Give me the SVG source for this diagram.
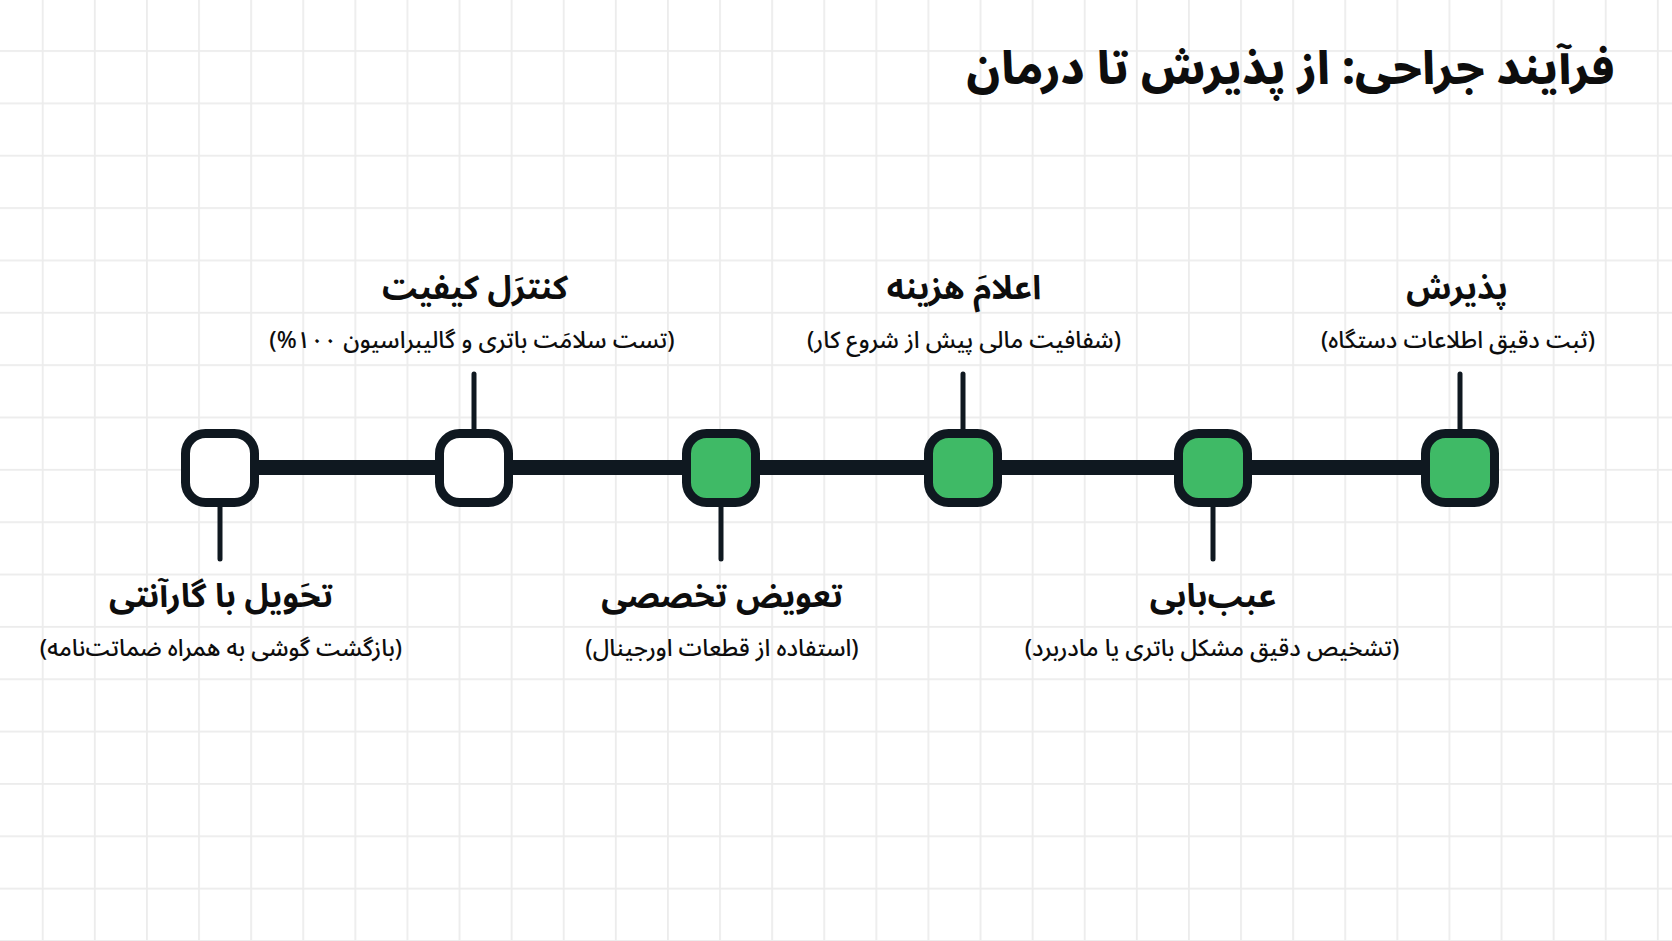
<svg xmlns="http://www.w3.org/2000/svg" width="1672" height="941" viewBox="0 0 1672 941">
  <defs>
    <pattern id="gridV" x="41.8" y="0" width="52.1" height="941" patternUnits="userSpaceOnUse">
      <rect x="0" y="0" width="1.8" height="941" fill="#ececec"/>
    </pattern>
    <pattern id="gridH" x="0" y="50.1" width="1672" height="52.35" patternUnits="userSpaceOnUse">
      <rect x="0" y="0" width="1672" height="1.8" fill="#ececec"/>
    </pattern>
  </defs>
  <style>
    text { font-family: "Noto Sans Arabic", "Vazirmatn", "DejaVu Sans", sans-serif; direction: rtl; fill: #0d0d0d; }
    .title { font-size: 45.5px; font-weight: 800; text-anchor: start; }
    .lbl { font-size: 33px; font-weight: 700; text-anchor: middle; }
    .sub { font-size: 23.5px; font-weight: 500; text-anchor: middle; }
    .node { stroke: #0f1820; stroke-width: 9; }
    .done { fill: #3fba66; }
    .todo { fill: #ffffff; }
    .stem { stroke: #0f1820; stroke-width: 5; stroke-linecap: round; fill: none; }
    .track { stroke: #0f1820; stroke-width: 15; fill: none; }
  </style>
  <rect width="1672" height="941" fill="#ffffff"/>
  <rect width="1672" height="941" fill="url(#gridV)"/>
  <rect width="1672" height="941" fill="url(#gridH)"/>

  <text id="title" class="title" x="1615" y="84">فرآیند جراحی: از پذیرش تا درمان</text>

  <g id="connectors">
    <line class="track" x1="220" y1="467.5" x2="1460" y2="467.5"/>
    <line class="stem" x1="474" y1="374" x2="474" y2="432"/>
    <line class="stem" x1="963" y1="374" x2="963" y2="432"/>
    <line class="stem" x1="1460" y1="374" x2="1460" y2="432"/>
    <line class="stem" x1="220" y1="504" x2="220" y2="559"/>
    <line class="stem" x1="721" y1="504" x2="721" y2="559"/>
    <line class="stem" x1="1213" y1="504" x2="1213" y2="559"/>
  </g>

  <g id="node-delivery">
    <rect class="node todo" x="185.5" y="433.5" width="69" height="69" rx="20"/>
    <text class="lbl" x="221" y="607">تحَویل با گارآنتی</text>
    <text class="sub" x="221" y="656">(بازگشت گوشی به همراه ضماتت‌نامه)</text>
  </g>

  <g id="node-qc">
    <rect class="node todo" x="439.5" y="433.5" width="69" height="69" rx="20"/>
    <text class="lbl" x="475" y="299">کنترَل کیفیت</text>
    <text class="sub" x="472" y="348">(تست سلامَت باتری و گالیبراسیون ۱۰۰%)</text>
  </g>

  <g id="node-replace">
    <rect class="node done" x="686.5" y="433.5" width="69" height="69" rx="20"/>
    <text class="lbl" x="722" y="607">تعویض تخصصی</text>
    <text class="sub" x="722" y="656">(استفاده از قطعات اورجینال)</text>
  </g>

  <g id="node-cost">
    <rect class="node done" x="928.5" y="433.5" width="69" height="69" rx="20"/>
    <text class="lbl" x="964" y="299">اعلامَ هزینه</text>
    <text class="sub" x="964" y="348">(شفافیت مالی پیش از شروع کار)</text>
  </g>

  <g id="node-diagnosis">
    <rect class="node done" x="1178.5" y="433.5" width="69" height="69" rx="20"/>
    <text class="lbl" x="1213" y="607">عبب‌بابی</text>
    <text class="sub" x="1212" y="656">(تشخیص دقیق مشکل باتری یا مادربرد)</text>
  </g>

  <g id="node-reception">
    <rect class="node done" x="1425.5" y="433.5" width="69" height="69" rx="20"/>
    <text class="lbl" x="1457" y="299">پذیرش</text>
    <text class="sub" x="1458" y="348">(ثبت دقیق اطلاعات دستگاه)</text>
  </g>
</svg>
